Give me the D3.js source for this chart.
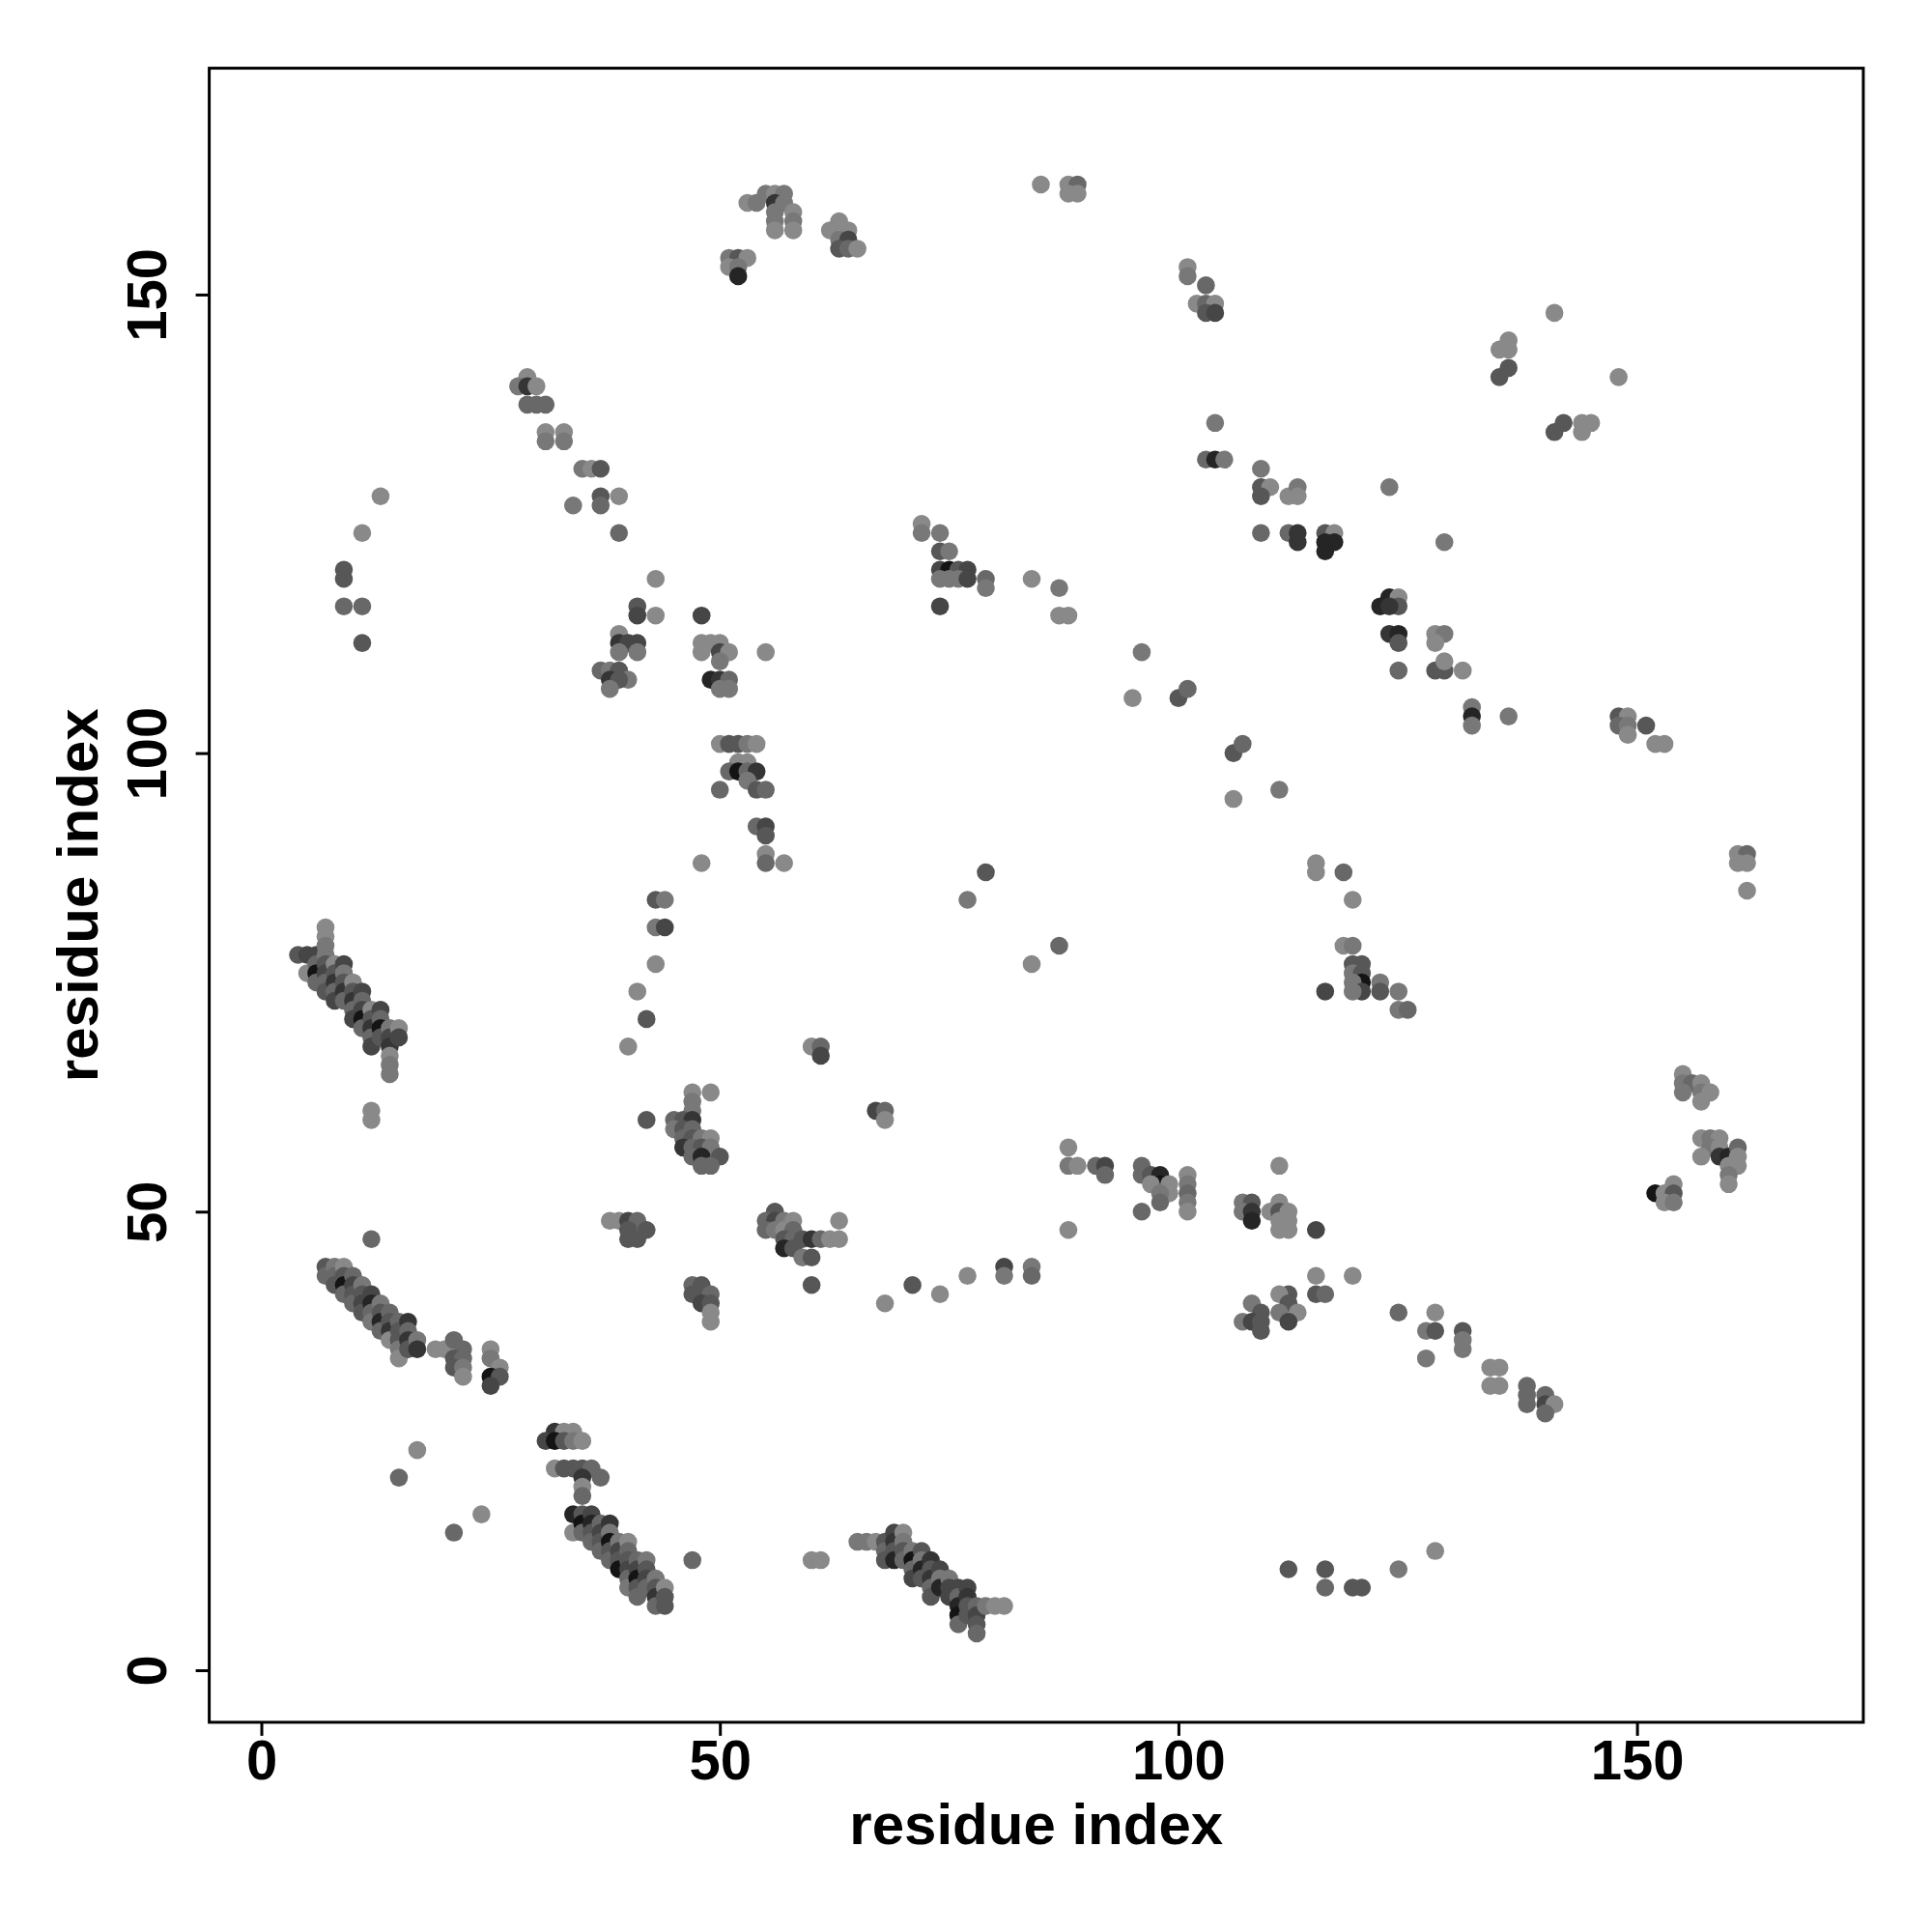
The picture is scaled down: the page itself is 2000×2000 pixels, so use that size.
<!DOCTYPE html>
<html><head><meta charset="utf-8">
<script src="https://cdn.jsdelivr.net/npm/d3@7"></script>
<style>html,body{margin:0;padding:0;background:#fff;}svg{display:block;}</style>
</head><body>
<script>
// ---- data: [residue i, residue j, shade level 0 (light) .. 7 (dark)] ----
const topContacts = [
[53,160,0],[54,160,1],[55,161,1],[56,161,0],[57,161,1],[56,160,5],[57,160,1],[56,159,1],[58,159,0],[56,158,1],[58,158,1],[56,157,0],[58,157,0],
[51,154,1],[52,154,3],[53,154,0],[51,153,0],[52,153,1],[52,152,6],
[63,158,0],[62,157,0],[64,157,0],[63,156,1],[64,156,4],[63,155,3],[64,155,2],[65,155,0],
[85,162,0],[88,162,0],[89,162,2],[88,161,0],[89,161,0],
[101,153,0],[101,152,1],[103,151,2],[102,149,0],[103,149,2],[104,149,0],[103,148,3],[104,148,4]
];
const upperRightContacts = [
[104,136,1],[103,132,2],[104,132,6],[105,132,1],[109,131,1],
[109,129,3],[110,129,0],[109,128,3],[112,128,0],[113,129,1],[113,128,0],
[109,124,2],[112,124,2],[113,124,5],[113,123,5],[116,124,3],[117,124,0],[116,123,6],[117,123,6],[116,122,6],[129,123,1],[123,129,1],
[141,148,0],[136,145,0],[135,144,0],[136,144,0],[136,142,3],[135,141,3],[148,141,0],[142,136,3],[141,135,3],[144,136,0],[145,136,0],[144,135,0],
[122,116,6],[123,117,6],[124,117,0],[124,116,3],[123,116,5],[123,113,5],[124,113,6],[124,112,3],[128,113,0],[129,113,1],[128,112,0],
[124,109,2],[128,109,3],[129,109,3],[129,110,0],[131,109,0],[132,105,1],[132,104,6],[132,103,1],[136,104,1],
[148,104,3],[149,104,0],[148,103,2],[149,103,1],[151,103,3],[149,102,0],[152,101,0],[153,101,0],
[161,89,0],[162,89,2],[161,88,0],[162,88,0],[162,85,0]
];
const upperLeftContacts = [
[29,141,0],[28,140,1],[29,140,5],[30,140,0],[29,138,2],[30,138,2],[31,138,2],
[31,135,0],[31,134,1],[33,135,0],[33,134,1],
[35,131,1],[36,131,0],[37,131,3],
[37,128,3],[37,127,2],[39,128,0],[34,127,1],[39,124,2],
[13,128,0],[11,124,0],[9,120,3],[9,119,3],[9,116,2],[11,116,2],[11,112,3],
[43,119,0],[41,116,3],[41,115,4],[43,115,0],[48,115,4],
[39,113,0],[39,112,5],[40,112,4],[41,112,4],[39,111,1],[41,111,1],
[37,109,2],[38,109,1],[39,109,3],[40,108,1],[38,108,5],[39,108,3],[38,107,1],
[48,112,0],[49,112,0],[50,112,0],[48,111,0],[50,111,4],[51,111,0],[50,110,1],[55,111,0],
[49,108,6],[50,108,5],[51,108,2],[50,107,1],[51,107,1],
[50,101,0],[51,101,3],[52,101,3],[53,101,1],[54,101,0],
[52,99,0],[53,99,0],[51,98,2],[52,98,7],[53,98,2],[54,98,5],[53,97,1],[54,96,3],[55,96,2],[50,96,2],
[54,92,2],[55,92,4],[55,91,3],[55,89,0],[55,88,2],[57,88,0],[48,88,0],
[43,84,3],[44,84,1],[43,81,1],[44,81,4],[43,77,0],[41,74,0],[42,71,3],[40,68,0]
];
const centralContacts = [
[72,125,0],[72,124,1],[74,124,1],[74,122,3],[75,122,1],[74,120,4],[75,120,7],[76,120,3],[77,120,4],[74,119,1],[75,119,1],[76,119,1],[77,119,4],[79,119,2],[79,118,1],[74,116,4],
[84,119,0],[87,118,1],[87,115,0],[88,115,0],[96,111,1],[95,106,0],[100,106,3],[101,107,2],[106,100,3],[107,101,2],[106,95,0],[111,96,1],
[79,87,3],[77,84,1],[87,79,2],[84,77,0],
[60,68,0],[61,68,2],[61,67,4],[67,61,4],[68,61,2],[68,60,0],
[115,88,0],[115,87,0],[118,87,2],[119,84,0],[118,79,0],[119,79,1],[119,77,3],[120,77,3],[119,76,1],[120,76,3],[120,75,7],[119,75,1],[120,74,4],[119,74,1],[122,75,1],[122,74,3],[124,74,1],[124,72,1],[125,72,2],[116,74,4]
];
const rightContacts = [
[155,65,0],[155,64,1],[156,64,2],[155,63,1],[157,64,0],[157,63,1],[158,63,0],[157,62,0],
[157,58,0],[158,58,1],[159,58,0],[158,57,1],[159,57,0],[157,56,0],[159,56,5],[160,56,6],[161,57,2],[161,56,0],[160,55,0],[161,55,0],[160,54,1],[160,53,0],
[152,52,7],[153,52,0],[154,53,0],[154,52,3],[153,51,0],[154,51,1]
];
const strandA = [
[4,78,3],[5,78,4],[5,76,0],[6,78,4],[6,77,2],[6,76,7],[6,75,2],
[7,81,0],[7,80,0],[7,79,1],[7,78,1],[7,77,3],[7,76,4],[7,75,2],[7,74,3],
[8,77,0],[8,76,3],[8,75,5],[8,74,2],[8,73,4],
[9,77,4],[9,76,1],[9,75,3],[9,74,5],[9,73,2],
[10,75,0],[10,74,3],[10,73,5],[10,72,2],[10,71,4],
[11,74,4],[11,73,2],[11,72,4],[11,71,7],[11,70,2],
[12,72,0],[12,71,3],[12,70,5],[12,69,2],[12,68,4],
[13,72,4],[13,71,2],[13,70,7],[13,69,3],
[14,70,1],[14,69,4],[14,68,5],[14,67,0],[14,66,1],[14,65,1],
[15,70,0],[15,69,4],[12,61,0],[12,60,0]
];
const strandB = [
[7,44,3],[7,43,2],[8,44,1],[8,43,2],[8,42,3],
[9,44,0],[9,43,3],[9,42,7],[9,41,2],
[10,43,2],[10,42,4],[10,41,3],[10,40,2],
[11,42,1],[11,41,3],[11,40,4],[11,39,3],
[12,41,4],[12,40,6],[12,39,2],[12,38,1],
[13,40,1],[13,39,3],[13,38,6],[13,37,2],
[14,39,2],[14,38,3],[14,37,5],[14,36,0],
[15,38,2],[15,37,3],[15,36,3],[15,35,1],[15,34,0],
[16,38,5],[16,37,2],[16,36,5],[16,35,3],
[17,36,1],[17,35,5],[12,47,2],
[19,35,0],[20,35,0],[21,36,2],[22,35,2],[21,34,3],[22,34,2],[21,33,3],[22,33,1],[22,32,0],
[25,35,0],[25,34,1],[26,33,0],[25,32,7],[26,32,3],[25,31,4]
];
const strandC = [
[32,26,5],[33,26,0],[34,26,0],[31,25,4],[32,25,7],[33,25,3],[34,25,1],[35,25,0],
[32,22,0],[33,22,3],[34,22,3],[35,22,3],[36,22,2],[37,21,2],[35,21,5],[35,20,0],[35,19,2],
[34,17,6],[34,15,0],[35,17,3],[35,16,7],[35,15,2],
[36,17,4],[36,16,6],[36,15,3],[36,14,2],
[37,16,2],[37,15,4],[37,14,3],[37,13,2],
[38,16,5],[38,15,1],[38,14,7],[38,13,3],[38,12,2],
[39,14,1],[39,13,4],[39,12,3],[39,11,7],
[40,14,0],[40,13,2],[40,12,3],[40,11,4],[40,10,2],[40,9,1],
[41,12,2],[41,11,4],[41,10,7],[41,9,3],[41,8,2],
[42,12,1],[42,11,3],[42,10,4],[42,9,2],
[43,10,1],[43,9,3],[43,8,5],[43,7,2],
[44,9,0],[44,8,3],[44,7,3],
[47,12,2],[17,24,0],[15,21,2],[24,17,0],[21,15,2]
];
const strandD = [
[60,12,0],[61,12,0],[65,14,1],[66,14,1],[67,14,0],
[68,14,3],[68,13,2],[68,12,3],
[69,15,4],[69,14,5],[69,13,3],[69,12,6],
[70,15,0],[70,14,1],[70,13,3],[70,12,2],
[71,13,1],[71,12,7],[71,11,2],[71,10,4],
[72,13,3],[72,12,1],[72,11,6],[72,10,3],
[73,12,5],[73,11,3],[73,10,5],[73,9,2],[73,8,3],
[74,11,4],[74,10,1],[74,9,6],
[75,10,1],[75,9,4],[75,8,4],
[76,9,4],[76,8,2],[76,7,6],[76,6,7],[76,5,2],
[77,9,4],[77,8,5],[77,7,3],[77,6,3],
[78,7,2],[78,6,4],[78,5,3],[78,4,2],
[79,7,1],[80,7,0],[81,7,0]
];
const middleContacts = [
[47,63,0],[49,63,0],[47,62,1],[47,61,1],[42,60,3],[45,60,2],[46,60,3],[47,60,5],[45,59,1],[46,59,3],[47,59,2],[46,58,2],[47,58,3],[48,58,1],[49,58,0],
[46,57,5],[47,57,2],[48,57,3],[49,57,1],[47,56,2],[48,56,6],[50,56,3],[48,55,2],[49,55,2],
[38,49,0],[39,49,0],[40,49,4],[41,49,2],[42,48,3],[40,48,3],[40,47,3],[41,47,3],
[47,42,2],[48,42,3],[47,41,3],[48,41,3],[49,41,2],[48,40,4],[49,40,3],[49,39,0],[49,38,0],
[56,50,3],[55,49,2],[56,49,4],[57,49,1],[58,49,0],[55,48,2],[56,48,1],[57,48,0],[58,48,2],[57,47,3],[58,47,2],[59,47,3],[60,47,5],[61,47,2],[62,47,0],[63,47,0],[63,49,0],
[57,46,6],[58,46,3],[59,45,1],[60,45,3],[60,42,3],
[68,40,0],[71,42,3],[74,41,0],[77,43,0],[81,44,4],[81,43,1],[84,44,1],[84,43,2]
];
const lowerRightContacts = [
[88,57,0],[88,55,1],[89,55,0],[91,55,2],[92,55,4],[92,54,2],[88,48,0],
[96,55,2],[96,54,2],[97,54,3],[98,54,6],[98,53,7],[97,53,0],[99,53,0],[99,52,0],[98,52,1],[98,51,2],[96,50,2],
[101,54,0],[101,53,1],[101,52,2],[101,51,1],[101,50,0],
[107,51,1],[108,51,3],[107,50,1],[108,50,5],[108,49,6],[111,51,0],[110,50,0],[111,50,3],[112,50,0],[111,49,0],[112,49,0],[111,48,0],[112,48,0],[111,55,0],[115,48,4],
[115,43,0],[115,41,3],[116,41,2],[112,41,3],[111,41,0],[112,40,3],[111,39,1],[113,39,0],[112,38,4],[108,40,1],[109,39,3],[107,38,1],[108,38,4],[109,38,3],[109,37,3],[119,43,0],
[124,39,2],[128,39,0],[127,37,1],[128,37,3],[131,37,3],[131,36,1],[131,35,1],[127,34,1],[134,33,0],[135,33,0],[134,31,0],[135,31,0],
[138,31,2],[138,30,2],[138,29,2],[140,30,2],[140,29,4],[141,29,0],[140,28,2],
[112,11,3],[116,11,3],[116,9,2],[119,9,3],[120,9,3],[124,11,1],[128,13,0]
];
const tickValues = [0, 50, 100, 150];
const xLabel = "residue index";
const yLabel = "residue index";
const seqLength = 168;

const allContacts = [].concat(topContacts, upperRightContacts, upperLeftContacts, centralContacts,
  rightContacts, strandA, strandB, strandC, strandD, middleContacts, lowerRightContacts);

// ---- layout ----
const W = 2000, H = 2000;
const L = 216.6, R = 1928.9, T = 70.6, B = 1782.9;
const pad = 0.04 * (seqLength - 1);
const dom = [1 - pad, seqLength + pad];
const x = d3.scaleLinear().domain(dom).range([L, R]);
const y = d3.scaleLinear().domain(dom).range([B, T]);
const shade = d3.scaleLinear().domain([0, 7]).range(["#898989", "#141414"]);
const font = "'Liberation Sans', Arial, Helvetica, sans-serif";

const svg = d3.select("body").append("svg").attr("width", W).attr("height", H);
svg.append("rect").attr("width", W).attr("height", H).attr("fill", "#fff");

svg.append("g").selectAll("circle").data(allContacts).join("circle")
  .attr("cx", d => x(d[0])).attr("cy", d => y(d[1])).attr("r", 9.3)
  .attr("fill", d => shade(d[2]));

svg.append("rect").attr("x", L).attr("y", T).attr("width", R - L).attr("height", B - T)
  .attr("fill", "none").attr("stroke", "#000").attr("stroke-width", 3);

const xAxis = svg.append("g").attr("transform", `translate(0,${B})`)
  .call(d3.axisBottom(x).tickValues(tickValues).tickSize(14).tickFormat(d3.format("d")));
xAxis.select(".domain").remove();
xAxis.selectAll(".tick line").attr("stroke", "#000").attr("stroke-width", 3);
xAxis.selectAll(".tick text").attr("y", 59).attr("dy", 0)
  .attr("font-family", font).attr("font-weight", "bold").attr("font-size", 58).attr("fill", "#000");

const yAxis = svg.append("g").attr("transform", `translate(${L},0)`)
  .call(d3.axisLeft(y).tickValues(tickValues).tickSize(14).tickFormat(d3.format("d")));
yAxis.select(".domain").remove();
yAxis.selectAll(".tick line").attr("stroke", "#000").attr("stroke-width", 3);
yAxis.selectAll(".tick text").attr("x", 0).attr("y", -(L - 172)).attr("dy", 0)
  .attr("transform", "rotate(-90)").attr("text-anchor", "middle")
  .attr("font-family", font).attr("font-weight", "bold").attr("font-size", 58).attr("fill", "#000");

svg.append("text").attr("x", (L + R) / 2).attr("y", 1909).attr("text-anchor", "middle")
  .attr("font-family", font).attr("font-weight", "bold").attr("font-size", 60).text(xLabel);
svg.append("text").attr("transform", `translate(101,${(T + B) / 2}) rotate(-90)`).attr("text-anchor", "middle")
  .attr("font-family", font).attr("font-weight", "bold").attr("font-size", 60).text(yLabel);
</script>
</body></html>
